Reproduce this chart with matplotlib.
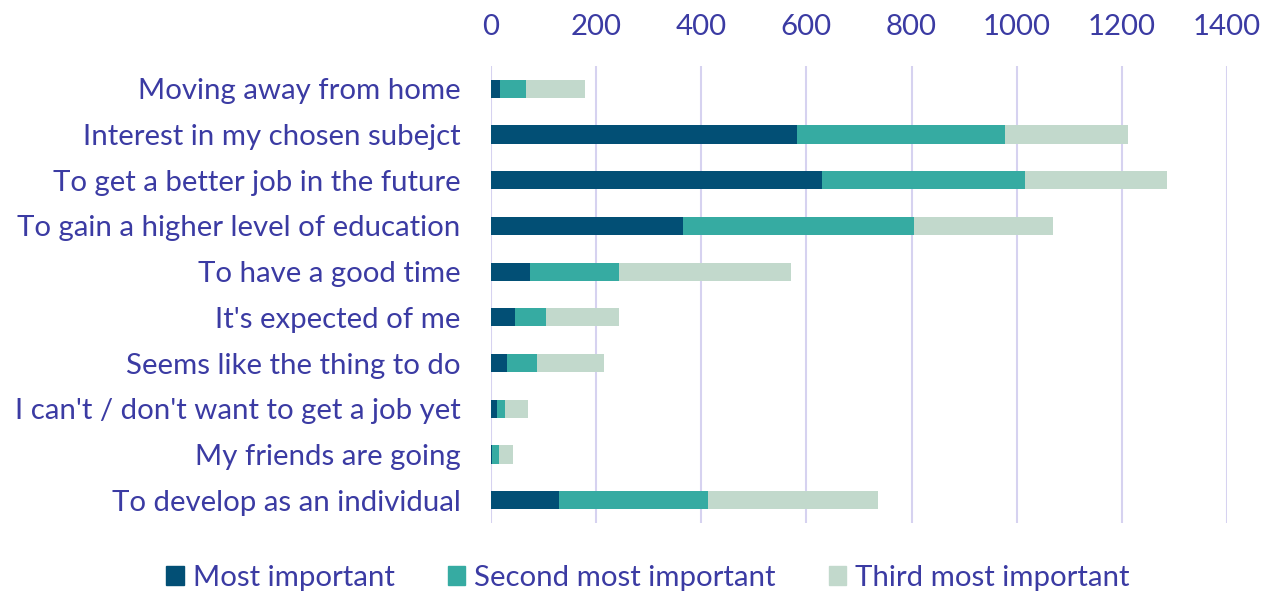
import matplotlib.pyplot as plt
from matplotlib.patches import Patch

plt.rcParams["font.family"] = ["Lato", "DejaVu Sans"]

categories = [
    "Moving away from home",
    "Interest in my chosen subejct",
    "To get a better job in the future",
    "To gain a higher level of education",
    "To have a good time",
    "It's expected of me",
    "Seems like the thing to do",
    "I can't / don't want to get a job yet",
    "My friends are going",
    "To develop as an individual",
]
most = [17, 582, 629, 365, 74, 46, 30, 11, 1, 129]
second = [50, 396, 386, 440, 169, 58, 57, 16, 14, 283]
third = [112, 233, 271, 264, 328, 140, 128, 44, 27, 324]
series_names = ["Most important", "Second most important", "Third most important"]
xticks = [0, 200, 400, 600, 800, 1000, 1200, 1400]

colors = ["#024F75", "#36ABA2", "#C2D9CC"]
text_color = "#3B3BA3"
grid_color = "#D6D2F0"
fs = 21.2

fig = plt.figure(figsize=(12.69, 5.94), dpi=100)
ax = fig.add_axes([491 / 1269, 1 - 523 / 594, (1227 - 491) / 1269, (523 - 66) / 594])

y = list(range(len(categories)))
left = [0] * len(categories)
for vals, c in zip([most, second, third], colors):
    ax.barh(y, vals, left=left, height=0.4, color=c, zorder=3)
    left = [a + b for a, b in zip(left, vals)]

ax.set_xlim(0, 1400)
ax.set_ylim(len(categories) - 0.5, -0.5)
ax.set_xticks(xticks)
ax.xaxis.tick_top()
ax.set_yticks(y)
ax.set_yticklabels(categories)
ax.tick_params(axis="both", length=0, labelsize=fs, colors=text_color)
ax.tick_params(axis="y", pad=22)
ax.tick_params(axis="x", pad=19)
for s in ax.spines.values():
    s.set_visible(False)
ax.grid(axis="x", color=grid_color, linewidth=1.5, zorder=0)

handles = [Patch(color=c) for c in colors]
leg = fig.legend(handles, series_names, loc="center", ncol=3,
                 bbox_to_anchor=(648 / 1269, 1 - 578 / 594), frameon=False,
                 fontsize=fs, handlelength=0.6, handleheight=0.6,
                 handletextpad=0.3, columnspacing=1.8)
for t in leg.get_texts():
    t.set_color(text_color)

fig.savefig("out.png", dpi=100)
